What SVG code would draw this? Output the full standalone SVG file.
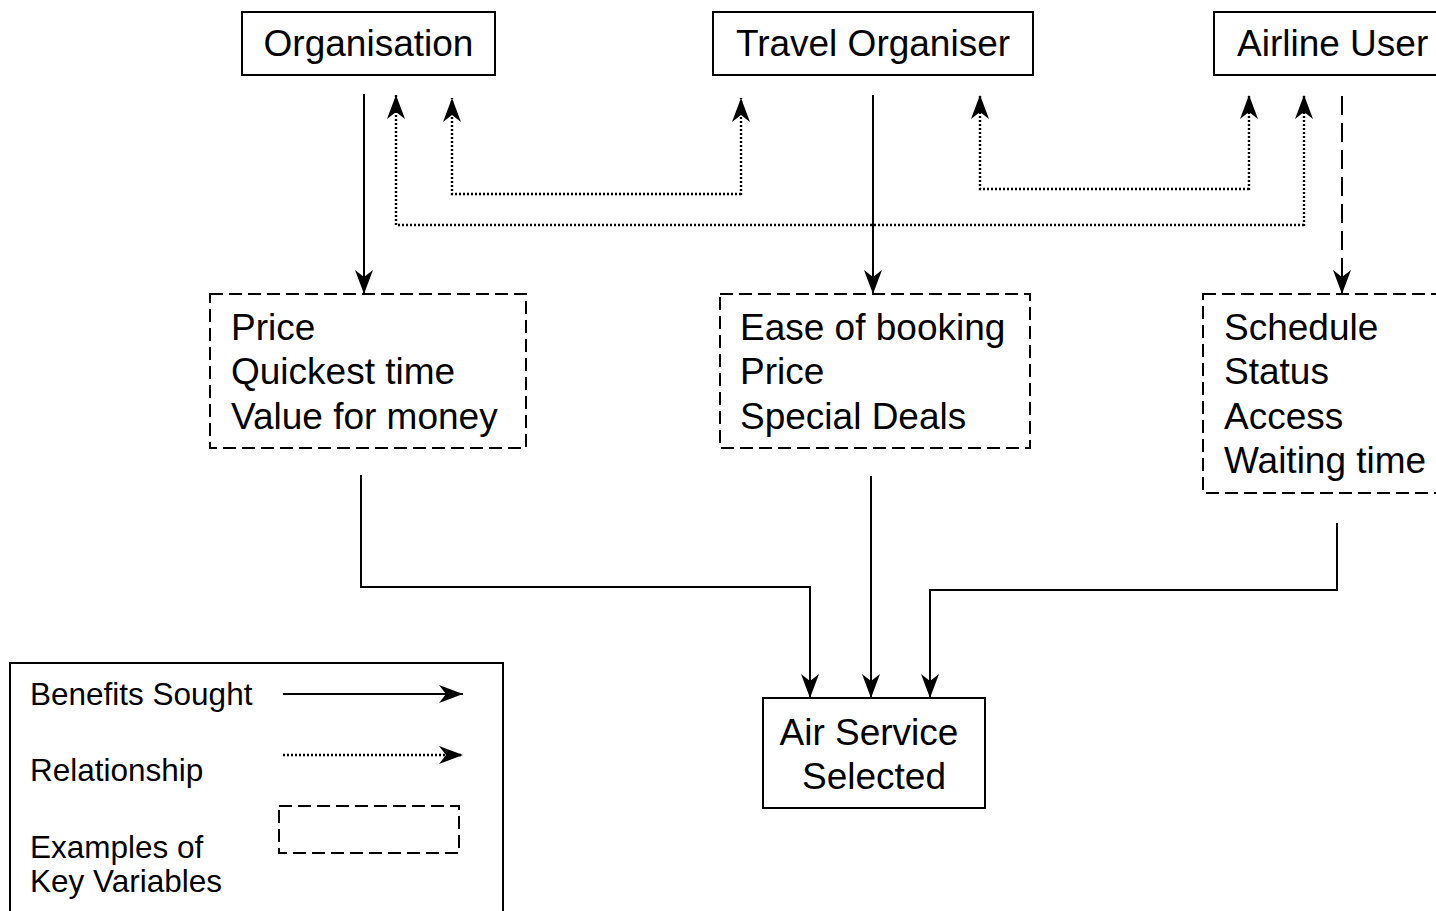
<svg xmlns="http://www.w3.org/2000/svg" width="1436" height="911" viewBox="0 0 1436 911">
  <style>
    text { font-family: "Liberation Sans", Arial, sans-serif; fill: #000; }
    .lbl { font-size: 37px; }
    .leg { font-size: 31.5px; }
    .box { fill: #fff; stroke: #000; stroke-width: 2; }
    .dbox { fill: #fff; stroke: #000; stroke-width: 2; stroke-dasharray: 13 6; }
    .solid { fill: none; stroke: #000; stroke-width: 2; }
    .dot { fill: none; stroke: #000; stroke-width: 2.4; stroke-dasharray: 2 2; }
    .dash { fill: none; stroke: #000; stroke-width: 2; stroke-dasharray: 19 8; }
  </style>
  <defs>
    <marker id="head" viewBox="0 0 24 18" markerWidth="24" markerHeight="18" refX="24" refY="9" orient="auto" markerUnits="userSpaceOnUse">
      <path d="M24,9 L0,0 L7,9 L0,18 Z" fill="#000"/>
    </marker>
  </defs>
  <rect width="1436" height="911" fill="#fff"/>

  <!-- connectors -->
  <g id="connectors">
    <!-- benefits sought: stakeholders to their key variables -->
    <line class="solid" x1="364" y1="94" x2="364" y2="294" marker-end="url(#head)"/>
    <line class="solid" x1="873" y1="95" x2="873" y2="294" marker-end="url(#head)"/>
    <line class="dash" x1="1342" y1="96" x2="1342" y2="294" marker-end="url(#head)"/>
    <!-- relationships between stakeholders -->
    <polyline class="dot" points="1304,225 396,225 396,95" marker-end="url(#head)"/>
    <line class="dot" x1="1304" y1="226" x2="1304" y2="95" marker-end="url(#head)"/>
    <polyline class="dot" points="741,194 452,194 452,98" marker-end="url(#head)"/>
    <line class="dot" x1="741" y1="195" x2="741" y2="98" marker-end="url(#head)"/>
    <polyline class="dot" points="1249,189 980,189 980,95" marker-end="url(#head)"/>
    <line class="dot" x1="1249" y1="190" x2="1249" y2="95" marker-end="url(#head)"/>
    <!-- key variables feeding the selection -->
    <polyline class="solid" points="361,475 361,587 810,587 810,698" marker-end="url(#head)"/>
    <line class="solid" x1="871" y1="476" x2="871" y2="698" marker-end="url(#head)"/>
    <polyline class="solid" points="1337,523 1337,590 930,590 930,698" marker-end="url(#head)"/>
  </g>

  <g id="organisation">
    <rect class="box" x="242" y="12" width="253" height="63"/>
    <text class="lbl" x="368.5" y="56" text-anchor="middle">Organisation</text>
  </g>
  <g id="travel-organiser">
    <rect class="box" x="713" y="12" width="320" height="63"/>
    <text class="lbl" x="873" y="56" text-anchor="middle">Travel Organiser</text>
  </g>
  <g id="airline-user">
    <rect class="box" x="1214" y="12" width="260" height="63"/>
    <text class="lbl" x="1237" y="56">Airline User</text>
  </g>

  <g id="organisation-variables">
    <rect class="dbox" x="210" y="294" width="316" height="154"/>
    <text class="lbl" x="231" y="340">Price</text>
    <text class="lbl" x="231" y="384">Quickest time</text>
    <text class="lbl" x="231" y="429">Value for money</text>
  </g>
  <g id="travel-variables">
    <rect class="dbox" x="720" y="294" width="310" height="154"/>
    <text class="lbl" x="740" y="340">Ease of booking</text>
    <text class="lbl" x="740" y="384">Price</text>
    <text class="lbl" x="740" y="429">Special Deals</text>
  </g>
  <g id="user-variables">
    <rect class="dbox" x="1203" y="294" width="260" height="199"/>
    <text class="lbl" x="1224" y="340">Schedule</text>
    <text class="lbl" x="1224" y="384">Status</text>
    <text class="lbl" x="1224" y="429">Access</text>
    <text class="lbl" x="1224" y="473">Waiting time</text>
  </g>

  <g id="air-service-selected">
    <rect class="box" x="763" y="698" width="222" height="110"/>
    <text class="lbl" x="869" y="745" text-anchor="middle">Air Service</text>
    <text class="lbl" x="874" y="789" text-anchor="middle">Selected</text>
  </g>

  <g id="legend">
    <rect class="box" x="10" y="663" width="493" height="270"/>
    <text class="leg" x="30" y="705">Benefits Sought</text>
    <line class="solid" x1="283" y1="694" x2="463" y2="694" marker-end="url(#head)"/>
    <text class="leg" x="30" y="781">Relationship</text>
    <line class="dot" x1="283" y1="755" x2="463" y2="755" marker-end="url(#head)"/>
    <rect class="dbox" x="279" y="806" width="180" height="47" fill="none"/>
    <text class="leg" x="30" y="858">Examples of</text>
    <text class="leg" x="30" y="892">Key Variables</text>
  </g>
</svg>
